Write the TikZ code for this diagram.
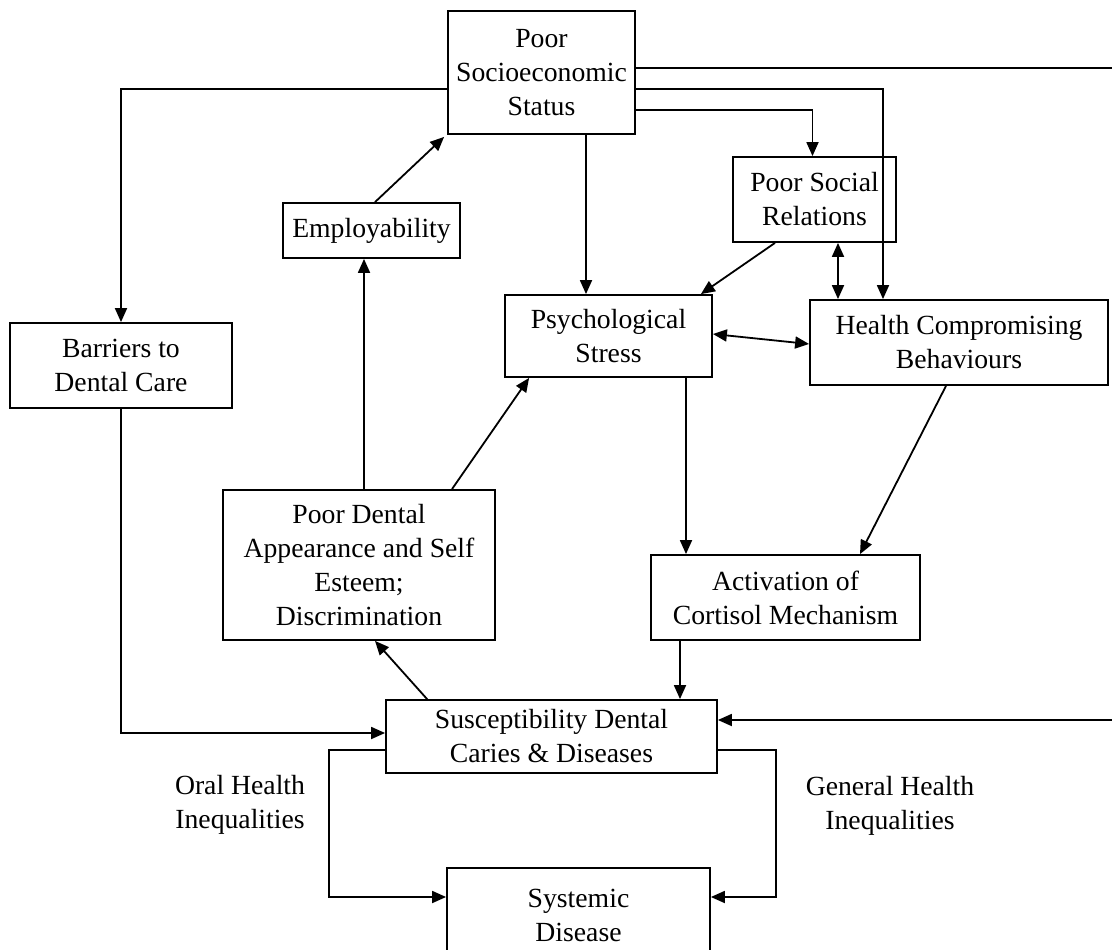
\documentclass[tikz,border=0pt]{standalone}
\usepackage{fontspec}
\setmainfont{Liberation Serif}
\usetikzlibrary{arrows.meta}

\begin{document}
\begin{tikzpicture}[x=1pt,y=-1pt,line width=1.8pt,
  box/.style={draw, black, align=center, inner sep=0pt, font=\fontsize{27.7}{34}\selectfont},
  lbl/.style={align=center, inner sep=0pt, font=\fontsize{27.7}{34}\selectfont},
  arr/.style={-{Triangle[length=14pt,width=12pt]}},
  both/.style={{Triangle[length=14pt,width=12pt]}-{Triangle[length=14pt,width=12pt]}}]
\useasboundingbox (0,0) rectangle (1112,950);
% boxes
\node [box, minimum width=187pt, minimum height=123pt] (pss) at (541.5,72.5) {Poor\\Socioeconomic\\Status};
\node [box, minimum width=177pt, minimum height=55pt] (emp) at (371.5,230.5) {Employability};
\node [box, minimum width=163pt, minimum height=85pt] (psr) at (814.5,199.5) {Poor Social\\Relations};
\node [box, minimum width=207pt, minimum height=82pt] (stress) at (608.5,336) {Psychological\\Stress};
\node [box, minimum width=298pt, minimum height=85pt] (hcb) at (959,342.5) {Health Compromising\\Behaviours};
\node [box, minimum width=222pt, minimum height=85pt] (barriers) at (121,365.5) {Barriers to\\Dental Care};
\node [box, minimum width=272pt, minimum height=150pt] (pda) at (359,565) {Poor Dental\\Appearance and Self\\Esteem;\\Discrimination};
\node [box, minimum width=269pt, minimum height=85pt] (cortisol) at (785.5,597.5) {Activation of\\Cortisol Mechanism};
\node [box, minimum width=331pt, minimum height=73pt] (susc) at (551.5,736.5) {Susceptibility Dental\\Caries \& Diseases};
\node [box, minimum width=263pt, minimum height=100pt, text depth=6pt] (sys) at (578.5,918) {Systemic\\Disease};
\node [lbl] (oral) at (240,804.5) {Oral Health\\Inequalities};
\node [lbl] (general) at (890,805.5) {General Health\\Inequalities};
\coordinate (rim) at (1116,68);
% connectors
\draw [arr] ([yshift=-16.5pt]pss.west) -| (barriers.north);
\draw [arr] ([yshift=-16.5pt]pss.east) -| ([xshift=-76pt]hcb.north);
\draw [arr] ([yshift=-37.5pt]pss.east) -| ([xshift=-2pt]psr.north);
\draw [arr] ([yshift=4.5pt]pss.east) -- (rim) |- ([yshift=16.5pt]susc.east);
\draw [arr] ([xshift=44.5pt]pss.south) -- ([xshift=-22.5pt]stress.north);
\draw [arr] ([xshift=3.5pt]emp.north) -- ([shift={(-3pt,-2pt)}]pss.south west);
\draw [arr] ([xshift=-39.5pt]psr.south) -- ([xshift=-12pt]stress.north east);
\draw [both] ([xshift=23.5pt]psr.south) -- ([xshift=-121pt]hcb.north);
\draw [both] ([yshift=2pt]stress.east) -- ([yshift=-1.5pt]hcb.west);
\draw [arr] ([xshift=77.5pt]stress.south) -- ([xshift=-99.5pt]cortisol.north);
\draw [arr] ([xshift=-13pt]hcb.south) -- ([xshift=74.5pt]cortisol.north);
\draw [arr] ([xshift=-105.5pt]cortisol.south) -- ([xshift=128.5pt]susc.north);
\draw [arr] ([xshift=5pt]pda.north) -- ([xshift=-7.5pt]emp.south);
\draw [arr] ([xshift=93pt]pda.north) -- ([xshift=25pt]stress.south west);
\draw [arr] ([xshift=42pt]susc.north west) -- ([xshift=16pt]pda.south);
\draw [arr] (barriers.south) |- ([yshift=3.5pt]susc.west);
\draw [arr] ([yshift=-13.5pt]susc.west) -- ++(-56,0) |- ([yshift=21pt]sys.west);
\draw [arr] ([yshift=-13.5pt]susc.east) -- ++(58,0) |- ([yshift=21pt]sys.east);
\end{tikzpicture}
\end{document}
